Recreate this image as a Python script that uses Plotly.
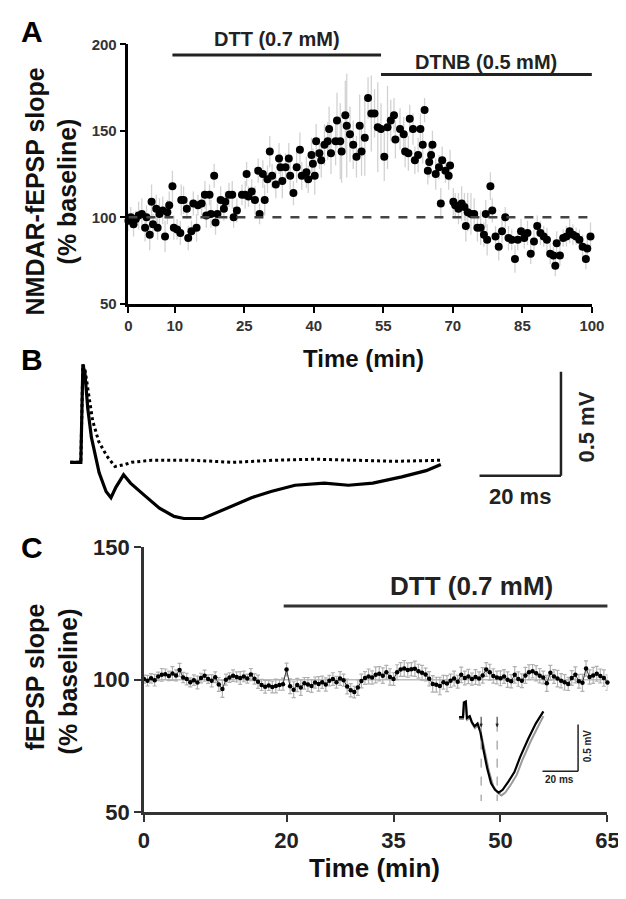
import plotly.graph_objects as go

W, H = 626, 899
FONT = "Arial, Liberation Sans, sans-serif"

# ---------------- panel A : NMDAR-fEPSP slope vs time ----------------
a_time = [0.0, 0.5, 1.1, 1.6, 2.2, 2.9, 3.6, 3.9, 4.6, 5.0, 5.3, 6.0, 6.3, 6.7, 7.4, 7.9, 8.4, 8.8,
          9.5, 9.8, 10.5, 11.2, 11.4, 11.9, 12.6, 12.9, 13.6, 14.0, 14.7, 15.0, 15.8, 16.5, 16.8,
          17.5, 17.8, 18.5, 18.8, 19.2, 19.9, 20.6, 20.9, 21.7, 22.4, 22.7, 23.4, 24.5, 25.2, 25.5,
          25.9, 26.6, 27.3, 28.0, 28.3, 29.0, 29.4, 30.0, 30.5, 31.0, 31.8, 32.5, 32.8, 33.2, 33.9,
          34.6, 34.9, 35.6, 36.3, 37.0, 37.4, 38.4, 38.8, 39.5, 39.8, 40.2, 40.5, 41.2, 41.6, 42.3,
          43.0, 43.3, 43.7, 44.7, 45.0, 45.7, 46.0, 46.8, 47.1, 47.8, 48.5, 49.2, 49.9, 50.3, 51.0,
          51.7, 52.4, 53.1, 53.8, 54.5, 55.2, 55.9, 56.6, 57.3, 57.6, 58.6, 59.4, 59.7, 60.4, 60.7,
          61.4, 61.8, 62.5, 63.0, 63.5, 63.9, 64.6, 64.9, 65.3, 65.6, 66.3, 67.0, 67.4, 67.7, 68.4,
          69.1, 69.4, 70.1, 70.5, 71.2, 71.9, 72.5, 72.8, 73.2, 73.9, 74.6, 75.3, 76.0, 76.7, 77.1,
          77.4, 78.1, 78.5, 79.2, 79.9, 80.6, 81.3, 82.0, 82.7, 83.4, 84.0, 84.7, 85.4, 86.1, 86.8,
          87.5, 88.2, 88.9, 89.6, 90.3, 91.0, 91.7, 92.1, 92.4, 93.1, 93.8, 94.5, 95.2, 95.9, 96.6,
          97.3, 98.0, 98.7, 99.0, 99.7]
a_slope = [98, 100, 96, 99, 101, 102, 94, 100, 90, 109, 96, 105, 94, 102, 104, 89, 103, 107,
           118, 94, 93, 91, 110, 110, 105, 88, 92, 108, 94, 107, 108, 113, 101,
           113, 102, 124, 97, 102, 110, 105, 109, 113, 113, 100, 104, 113, 113, 125,
           112, 115, 110, 127, 102, 125, 110, 122, 138, 124, 119, 134, 129, 121, 129,
           134, 124, 114, 129, 139, 124, 126, 122, 136, 131, 124, 144, 137, 133, 142,
           144, 151, 137, 144, 156, 144, 138, 159, 153, 148, 142, 135, 153, 138, 146,
           169, 160, 160, 152, 151, 135, 152, 156, 159, 145, 151, 148, 138, 137, 157,
           151, 133, 136, 151, 142, 162, 127, 132, 136, 142, 125, 129, 108, 133, 127,
           124, 130, 109, 107, 105, 108, 106, 95, 103, 102, 102, 94, 94, 90, 102,
           87, 118, 104, 89, 83, 92, 100, 88, 87, 76, 87, 92, 88, 91, 79,
           86, 95, 91, 89, 87, 79, 78, 72, 85, 78, 88, 89, 92, 90, 89,
           87, 83, 76, 82, 89]
a_sem = [6, 6, 7, 5, 8, 9, 8, 7, 9, 10, 6, 8, 7, 9, 8, 9, 7, 8,
         9, 7, 6, 7, 9, 8, 6, 7, 6, 7, 8, 6, 7, 8, 7,
         6, 8, 7, 7, 6, 8, 7, 6, 7, 8, 6, 7, 6, 8, 7,
         6, 7, 8, 7, 6, 8, 9, 8, 9, 7, 8, 9, 8, 10, 8,
         9, 8, 7, 9, 10, 8, 9, 8, 10, 9, 11, 10, 9, 10, 12,
         11, 13, 12, 14, 16, 22, 18, 20, 30, 16, 14, 12, 18, 14, 22,
         12, 22, 14, 26, 15, 14, 24, 12, 10, 11, 12, 10, 9, 10, 8,
         9, 8, 10, 9, 11, 7, 8, 9, 7, 8, 9, 7, 9, 8, 7,
         8, 9, 8, 7, 9, 10, 8, 9, 11, 12, 9, 8, 10, 7, 8,
         9, 8, 7, 6, 8, 7, 6, 7, 6, 8, 6, 7, 6, 7, 6,
         7, 6, 7, 6, 7, 6, 5, 6, 7, 6, 5, 6, 7, 6, 5,
         6, 7, 6, 7, 8]
a_xticks = [0, 10, 25, 40, 55, 70, 85, 100]
a_yticks = [50, 100, 150, 200]
a_drugs = ["DTT (0.7 mM)", "DTNB (0.5 mM)"]
a_drug_start = [9.5, 54.5]
a_drug_end = [54.5, 100]

# ---------------- panel B : example traces (ms, mV) ----------------
b_solid_t = [0, 2.6, 3.1, 3.6, 4.3, 5.2, 7.1, 8.8, 10.0, 11.2, 13.1, 14.8, 18.3, 21.9, 25.5, 27.9,
             32.6, 38.6, 44.5, 49.3, 55.2, 62.4, 68.3, 74.3, 81.4, 87.4, 91.0]
b_solid_v = [0, 0, 0.47, 0.43, 0.26, 0.12, -0.05, -0.14, -0.17, -0.12, -0.06, -0.10, -0.16, -0.22,
             -0.26, -0.27, -0.27, -0.22, -0.17, -0.14, -0.11, -0.10, -0.11, -0.10, -0.07, -0.04, -0.01]
b_dot_t = [0, 2.6, 3.1, 3.6, 4.5, 5.5, 7.0, 9.0, 11.0, 13.5, 15.0, 20.0, 30.0, 40.0, 50.0, 60.0,
           70.0, 80.0, 91.0]
b_dot_v = [0, 0, 0.47, 0.45, 0.33, 0.20, 0.10, 0.03, -0.02, -0.01, 0.0, 0.01, 0.01, 0.0, 0.01,
           0.015, 0.01, 0.005, 0.01]

# ---------------- panel C : fEPSP slope vs time ----------------
c_time = [i * 0.5 for i in range(131)]
c_slope = [100.2, 99.6, 100.5, 99.8, 101.2, 101.8, 102.0, 101.4, 102.3, 101.6, 103.6, 100.8,
           100.2, 99.0, 99.8, 98.9, 100.6, 101.5, 100.2, 99.6, 100.9, 98.2, 96.5, 100.0,
           100.8, 101.5, 101.0, 100.6, 101.2, 100.4, 101.9, 100.3, 99.2, 98.0, 97.3, 97.8,
           97.2, 97.6, 98.0, 98.3, 103.8, 97.5, 96.2, 98.0, 97.0, 98.6, 98.2, 97.6,
           98.9, 98.4, 99.0, 98.2, 99.6, 100.2, 99.0, 100.4, 99.8, 97.4, 96.0, 95.3,
           97.0, 99.5, 100.6, 101.2, 100.8, 101.8, 102.2, 101.5, 102.8, 101.0, 100.2, 102.8,
           103.8, 104.2, 103.6, 103.9, 104.1, 103.2, 102.6, 101.9, 100.3, 98.4, 98.1, 97.6,
           99.0, 98.5, 99.6, 100.4, 99.2, 101.8, 100.6, 101.2, 100.2, 101.0, 100.4, 101.6,
           103.8, 102.8, 101.4, 100.8, 100.5, 101.2, 100.0, 99.4, 101.8, 100.2, 99.6, 101.6,
           102.8, 103.2, 102.4, 101.5, 100.8, 98.6, 102.6, 101.2, 100.4, 99.6, 99.0, 98.4,
           100.6, 101.8, 99.4, 98.8, 104.2, 101.0, 101.6, 102.2, 101.4, 100.6, 98.9]
c_sem = [1.5, 2.0, 1.8, 2.2, 1.6, 2.4, 2.0, 1.8, 2.6, 2.1, 2.5, 1.9,
         2.2, 1.7, 2.0, 2.4, 1.8, 2.1, 1.6, 2.3, 2.0, 2.6, 3.2, 2.1,
         1.8, 2.2, 1.9, 2.4, 2.0, 1.7, 2.3, 2.0, 2.5, 2.1, 2.4, 1.9,
         2.2, 2.6, 2.0, 2.3, 2.4, 2.8, 3.0, 2.5, 2.9, 2.2, 2.6, 2.4,
         2.1, 2.7, 2.3, 2.5, 2.0, 2.4, 2.2, 2.6, 2.3, 2.8, 2.5, 2.2,
         2.9, 2.6, 2.4, 2.8, 2.5, 3.0, 2.7, 2.9, 2.6, 3.1, 2.4, 2.8,
         2.6, 3.0, 2.7, 2.5, 2.9, 2.6, 2.8, 2.4, 2.7, 3.1, 2.8, 3.3,
         2.6, 3.0, 2.5, 2.8, 2.4, 2.9, 2.6, 2.7, 2.3, 2.8, 2.5, 2.9,
         2.6, 3.0, 2.7, 2.4, 2.8, 2.6, 2.9, 2.5, 3.1, 2.7, 2.6, 3.0,
         2.8, 2.5, 2.9, 2.7, 2.4, 3.0, 2.8, 2.6, 3.1, 2.7, 2.9, 2.5,
         2.8, 3.0, 2.6, 3.2, 2.9, 2.7, 3.0, 2.8, 2.6, 3.1, 2.9]
c_xticks = [0, 20, 35, 50, 65]
c_yticks = [50, 100, 150]
c_drug = "DTT (0.7 mM)"
c_drug_start, c_drug_end = 19.6, 65.3

# inset traces in panel C (ms, mV)
i_black_t = [0, 2.2, 2.7, 3.8, 4.4, 6.0, 7.1, 8.7, 10.4, 12.0, 13.6, 15.8, 18.0, 20.2, 22.3, 24.5,
             27.8, 31.1, 34.3, 38.7, 43.1, 47.4]
i_black_v = [0, 0, 0.156, 0.167, -0.01, 0.01, -0.05, -0.10, -0.07, -0.16, -0.34, -0.55, -0.71,
             -0.78, -0.81, -0.78, -0.69, -0.59, -0.43, -0.24, -0.07, 0.06]
i_gray_t = [0, 2.2, 3.0, 3.9, 4.6, 6.2, 7.3, 8.9, 10.6, 12.4, 14.4, 16.8, 19.2, 21.6, 23.8, 26.0,
            29.2, 32.4, 35.6, 40.0, 44.2, 47.4]
i_gray_v = [-0.02, -0.02, 0.13, 0.14, -0.03, -0.01, -0.07, -0.12, -0.09, -0.18, -0.36, -0.58,
            -0.74, -0.81, -0.84, -0.81, -0.72, -0.62, -0.46, -0.27, -0.11, 0.01]
i_markers = [12.4, 21.4]

BASE = 100


def px(x):
    return x / W


def py(y):
    return 1 - y / H


def label(x, y, text, size, angle=0, color="#111", ref=("paper", "paper")):
    return dict(xref=ref[0], yref=ref[1], x=x, y=y, text=text, showarrow=False,
                xanchor="center", yanchor="middle", textangle=angle,
                font=dict(family=FONT, size=size, color=color, weight="bold"))


fig = go.Figure()

# A
fig.add_trace(go.Scatter(
    x=a_time, y=a_slope, mode="markers", xaxis="x", yaxis="y",
    marker=dict(color="black", size=8),
    error_y=dict(type="data", array=a_sem, color="#d2d2d2", thickness=1.3, width=0),
    cliponaxis=False))

# B
fig.add_trace(go.Scatter(x=b_dot_t, y=b_dot_v, mode="lines", xaxis="x2", yaxis="y2",
                         line=dict(color="black", width=3, dash="dot")))
fig.add_trace(go.Scatter(x=b_solid_t, y=b_solid_v, mode="lines", xaxis="x2", yaxis="y2",
                         line=dict(color="black", width=3.2)))

# C
fig.add_trace(go.Scatter(
    x=c_time, y=c_slope, mode="markers+lines", xaxis="x3", yaxis="y3",
    marker=dict(color="black", size=4.5), line=dict(color="#333", width=1),
    error_y=dict(type="data", array=c_sem, color="#b0b0b0", thickness=1.2, width=2),
    cliponaxis=False))

# inset
fig.add_trace(go.Scatter(x=i_gray_t, y=i_gray_v, mode="lines", xaxis="x4", yaxis="y4",
                         line=dict(color="#9a9a9a", width=2)))
fig.add_trace(go.Scatter(x=i_black_t, y=i_black_v, mode="lines", xaxis="x4", yaxis="y4",
                         line=dict(color="black", width=2.2)))

tickfont_a = dict(family=FONT, size=15, color="#333", weight="bold")
tickfont_c = dict(family=FONT, size=22, color="#222", weight="bold")
ax_common = dict(showgrid=False, zeroline=False, showline=True, ticks="outside", fixedrange=True)

shapes = []
annos = []

# A dashed baseline and drug bars
shapes.append(dict(type="line", xref="x", yref="y", x0=0, x1=100, y0=BASE, y1=BASE,
                   line=dict(color="#444", width=2.5, dash="dash")))
a_bar_y = [193.8, 182.6]
a_txt_px = [20, 43]
for name, s, e, by, ty in zip(a_drugs, a_drug_start, a_drug_end, a_bar_y, a_txt_px):
    shapes.append(dict(type="line", xref="x", yref="y", x0=s, x1=e, y0=by, y1=by,
                       line=dict(color="#222", width=3)))
    annos.append(label((s + e) / 2, py(ty), name, 20, color="#222", ref=("x", "paper")))

# B scale bar
b_sx0, b_sx1, b_sy0, b_sy1 = 100.5, 120.5, -0.065, 0.435
shapes.append(dict(type="line", xref="x2", yref="y2", x0=b_sx0, x1=b_sx1, y0=b_sy0, y1=b_sy0,
                   line=dict(color="#222", width=2.5)))
shapes.append(dict(type="line", xref="x2", yref="y2", x0=b_sx1, x1=b_sx1, y0=b_sy0, y1=b_sy1,
                   line=dict(color="#222", width=2.5)))
annos.append(label(110.5, -0.165, "20 ms", 22, color="#222", ref=("x2", "y2")))
annos.append(label(126.8, 0.17, "0.5 mV", 22, angle=-90, color="#222", ref=("x2", "y2")))

# C baseline and drug bar
shapes.append(dict(type="line", xref="x3", yref="y3", x0=0, x1=65, y0=BASE, y1=BASE,
                   line=dict(color="#bdbdbd", width=1.5), layer="below"))
shapes.append(dict(type="line", xref="x3", yref="y3", x0=c_drug_start, x1=c_drug_end,
                   y0=127.7, y1=127.7, line=dict(color="#333", width=3)))
annos.append(label(46, 135.3, c_drug, 26, color="#222", ref=("x3", "y3")))

# inset decorations
for m in i_markers:
    shapes.append(dict(type="line", xref="x4", yref="y4", x0=m, x1=m, y0=-0.06, y1=-0.9,
                       line=dict(color="#888", width=1, dash="dash")))
    annos.append(dict(xref="x4", yref="y4", x=m, y=-0.11, ax=0, ay=-12, text="",
                      showarrow=True, arrowhead=2, arrowsize=0.7, arrowwidth=1, arrowcolor="#222"))
i_sx0, i_sx1, i_sy0, i_sy1 = 46.9, 66.9, -0.58, -0.08
shapes.append(dict(type="line", xref="x4", yref="y4", x0=i_sx0, x1=i_sx1, y0=i_sy0, y1=i_sy0,
                   line=dict(color="#222", width=1.5)))
shapes.append(dict(type="line", xref="x4", yref="y4", x0=i_sx1, x1=i_sx1, y0=i_sy0, y1=i_sy1,
                   line=dict(color="#222", width=1.5)))
annos.append(label(56.5, -0.665, "20 ms", 10, color="#222", ref=("x4", "y4")))
annos.append(label(72.6, -0.31, "0.5 mV", 10, angle=-90, color="#222", ref=("x4", "y4")))

# panel letters and axis titles
for letter, ly in zip(["A", "B", "C"], [12, 349, 543]):
    annos.append(label(px(19), py(ly), letter, 30, color="black"))
annos.append(label(px(22), py(176), "NMDAR-fEPSP slope", 25, angle=-90))
annos.append(label(px(55), py(176), "(% baseline)", 25, angle=-90))
annos.append(label(px(360), py(348), "Time (min)", 24))
annos.append(label(px(22), py(676), "fEPSP slope", 25, angle=-90))
annos.append(label(px(56), py(680), "(% baseline)", 25, angle=-90))
annos.append(label(px(372), py(872), "Time (min)", 26))

fig.update_layout(
    width=W, height=H, margin=dict(l=0, r=0, t=0, b=0),
    paper_bgcolor="white", plot_bgcolor="rgba(0,0,0,0)", showlegend=False,
    xaxis=dict(ax_common, domain=[px(118), px(596)], range=[0, 100], tickvals=a_xticks,
               anchor="y", linecolor="black", linewidth=2.5, tickwidth=2, ticklen=6,
               tickcolor="black", tickfont=tickfont_a),
    yaxis=dict(ax_common, domain=[py(292), py(25)], range=[50, 200], tickvals=a_yticks,
               anchor="x", linecolor="black", linewidth=2.5, tickwidth=2, ticklen=6,
               tickcolor="black", tickfont=tickfont_a),
    xaxis2=dict(domain=[0, 1], range=[-13.81, 135.24], visible=False, anchor="y2", fixedrange=True),
    yaxis2=dict(domain=[py(530), py(340)], range=[-0.3505, 0.5374], visible=False, anchor="x2",
                fixedrange=True),
    xaxis3=dict(ax_common, domain=[px(134), px(612)], range=[0, 65], tickvals=c_xticks,
                anchor="y3", linecolor="#333", linewidth=2.5, tickwidth=2, ticklen=7,
                tickcolor="#333", tickfont=tickfont_c),
    yaxis3=dict(ax_common, domain=[py(815), py(542)], range=[50, 150], tickvals=c_yticks,
                anchor="x3", linecolor="#333", linewidth=2.5, tickwidth=2, ticklen=7,
                tickcolor="#333", tickfont=tickfont_c),
    xaxis4=dict(domain=[px(440), px(610)], range=[-10.35, 82.3], visible=False, anchor="y4",
                fixedrange=True),
    yaxis4=dict(domain=[py(810), py(690)], range=[-0.969, 0.281], visible=False, anchor="x4",
                fixedrange=True),
    shapes=shapes, annotations=annos,
)

fig.write_html("out.html")
